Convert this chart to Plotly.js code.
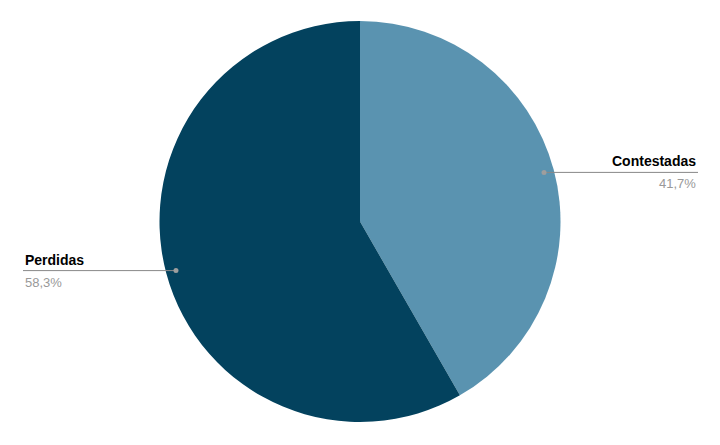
<!DOCTYPE html>
<html>
<head>
<meta charset="utf-8">
<script src="https://cdn.plot.ly/plotly-3.0.1.min.js"></script>
<style>
  html, body { margin: 0; padding: 0; background: #fff; }
  #chart { width: 720px; height: 445px; }
</style>
</head>
<body>
<div id="chart"></div>
<script>
var labels = ['Contestadas', 'Perdidas'];
var values = [41.7, 58.3];
var colors = ['#5a93b0', '#03425e'];

var W = 720, H = 445;
var margin = {l: 0, r: 0, t: 21, b: 23};
var plotH = H - margin.t - margin.b;
var cx = W / 2, cy = margin.t + plotH / 2, R = plotH / 2;

function px2x(px) { return px / W; }
function py2y(py) { return 1 - (py - margin.t) / plotH; }

var total = values.reduce(function (a, b) { return a + b; }, 0);
var shapes = [];
var annotations = [];
var acc = 0;

values.forEach(function (v, i) {
  var frac = v / total;
  var mid = (acc + frac / 2) * 2 * Math.PI;   // clockwise from top
  acc += frac;
  var dx = Math.sin(mid), dy = -Math.cos(mid);
  var dotX = cx + dx * R * 0.95;
  var dotY = cy + dy * R * 0.95;
  var right = dx > 0;
  var endX = right ? 698 : 23;
  var pct = (frac * 100).toFixed(1).replace('.', ',') + '%';

  shapes.push({
    type: 'line', xref: 'paper', yref: 'paper',
    x0: px2x(dotX), y0: py2y(dotY), x1: px2x(endX), y1: py2y(dotY),
    line: {color: '#888888', width: 1}
  });
  shapes.push({
    type: 'circle', xref: 'paper', yref: 'paper',
    x0: px2x(dotX - 2.5), x1: px2x(dotX + 2.5),
    y0: py2y(dotY - 2.5), y1: py2y(dotY + 2.5),
    fillcolor: '#9e9e9e', line: {width: 0}
  });
  annotations.push({
    xref: 'paper', yref: 'paper', x: px2x(endX), y: py2y(dotY - 1),
    xanchor: right ? 'right' : 'left', yanchor: 'bottom',
    text: '<b>' + labels[i] + '</b>', showarrow: false,
    font: {family: 'Liberation Sans, Arial, sans-serif', size: 14, color: '#000000'}
  });
  annotations.push({
    xref: 'paper', yref: 'paper', x: px2x(endX), y: py2y(dotY + 2),
    xanchor: right ? 'right' : 'left', yanchor: 'top',
    text: pct, showarrow: false,
    font: {family: 'Liberation Sans, Arial, sans-serif', size: 13, color: '#999999'}
  });
});

var data = [{
  type: 'pie',
  labels: labels,
  values: values,
  sort: false,
  direction: 'clockwise',
  rotation: 0,
  textinfo: 'none',
  hoverinfo: 'label+percent',
  marker: {colors: colors, line: {width: 0}}
}];

var layout = {
  width: W,
  height: H,
  margin: margin,
  showlegend: false,
  paper_bgcolor: '#ffffff',
  shapes: shapes,
  annotations: annotations
};

Plotly.newPlot('chart', data, layout, {displayModeBar: false});
</script>
</body>
</html>
